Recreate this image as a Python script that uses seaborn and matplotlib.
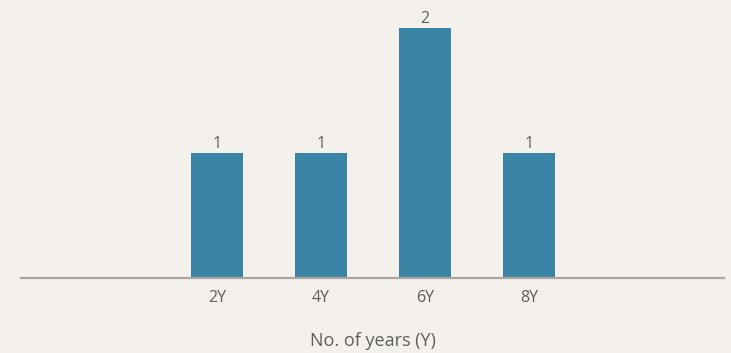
import matplotlib
matplotlib.use("Agg")
import matplotlib.pyplot as plt
import seaborn as sns
import pandas as pd

categories = ["2Y", "4Y", "6Y", "8Y"]
values = [1, 1, 2, 1]
x_label = "No. of years (Y)"

BG = "#f4f1ed"
BAR = "#3a84a6"
TXT = "#5e5e5e"

sns.set_theme(style="white")
plt.rcParams["font.family"] = ["Open Sans", "DejaVu Sans"]

df = pd.DataFrame({"cat": categories, "val": values})

fig = plt.figure(figsize=(7.31, 3.53), dpi=100, facecolor=BG)
ax = fig.add_axes([21 / 731, 75 / 353, (724 - 21) / 731, 278 / 353])
ax.set_facecolor(BG)

sns.barplot(data=df, x="cat", y="val", color=BAR, saturation=1, width=0.5,
            linewidth=0, edgecolor=BAR, ax=ax)

ax.set_xlim((21 - 217) / 104, (724 - 217) / 104)
ax.set_ylim(0, 278 / 125)

for c in ax.containers:
    ax.bar_label(c, labels=[str(v) for v in values], padding=1, color=TXT, fontsize=11.5)

for s in ["top", "left", "right"]:
    ax.spines[s].set_visible(False)
ax.spines["bottom"].set_color("#a9a6a2")
ax.spines["bottom"].set_linewidth(1.6)
ax.spines["bottom"].set_zorder(5)
ax.set_yticks([])
ax.set_ylabel("")
ax.tick_params(axis="x", length=0, pad=9, labelsize=11.5, labelcolor=TXT)
ax.set_xlabel(x_label, fontsize=13, color=TXT, labelpad=18)

fig.savefig("out.png", dpi=100, facecolor=BG)
